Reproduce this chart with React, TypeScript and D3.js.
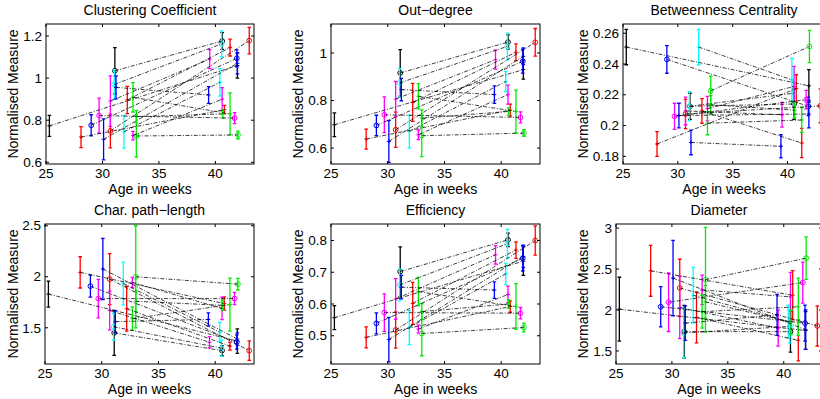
import React from "react";
import * as d3 from "d3";

// 16 subjects, each scanned early (preterm) and at term
const subjectColors = ["k", "r", "b", "m", "b", "r", "m", "k", "c", "b", "c", "r", "m", "g", "g", "g"];
const subjectMarkers = ["+", "+", "o", "o", "+", "o", "+", "o", "o", "+", "+", "+", "+", "+", "+", "o"];
const earlyAge = [25.3, 28.1, 29.0, 29.7, 30.1, 30.7, 30.7, 31.1, 31.05, 31.2, 31.9, 32.2, 32.7, 32.7, 33.0, 33.0];
const termAge = [41.95, 40.8, 41.9, 41.7, 41.95, 43.0, 39.5, 40.6, 40.55, 39.4, 40.4, 41.3, 40.6, 41.3, 40.65, 42.0];

// Clustering coefficient
const clusterEarly = [0.773, 0.72, 0.776, 0.822, 0.709, 0.749, 0.891, 1.035, 0.97, 0.956, 0.745, 0.896, 0.727, 0.909, 0.817, 0.725];
const clusterEarlyErr = [0.05, 0.05, 0.05, 0.083, 0.097, 0.08, 0.12, 0.11, 0.07, 0.055, 0.078, 0.065, 0.02, 0.07, 0.03, 0.1];
const clusterTerm = [1.06, 0.85, 1.094, 0.81, 1.07, 1.178, 1.09, 1.176, 1.163, 0.92, 0.98, 1.145, 0.9, 0.83, 0.83, 0.73];
const clusterTermErr = [0.06, 0.02, 0.04, 0.026, 0.05, 0.063, 0.045, 0.04, 0.061, 0.04, 0.065, 0.04, 0.055, 0.1, 0.02, 0.018];

// Out-degree
const degreeEarly = [0.698, 0.638, 0.695, 0.74, 0.628, 0.677, 0.806, 0.916, 0.874, 0.846, 0.67, 0.792, 0.656, 0.818, 0.726, 0.652];
const degreeEarlyErr = [0.05, 0.042, 0.043, 0.075, 0.088, 0.074, 0.074, 0.098, 0.06, 0.047, 0.069, 0.08, 0.02, 0.053, 0.035, 0.088];
const degreeTerm = [0.93, 0.76, 0.965, 0.729, 0.986, 1.045, 0.972, 1.046, 1.028, 0.825, 0.88, 1.003, 0.825, 0.754, 0.754, 0.663];
const degreeTermErr = [0.04, 0.025, 0.05, 0.023, 0.035, 0.058, 0.04, 0.03, 0.056, 0.037, 0.042, 0.035, 0.04, 0.09, 0.015, 0.014];

// Betweenness centrality
const betweenEarly = [0.251, 0.188, 0.243, 0.206, 0.2065, 0.2075, 0.2095, 0.2125, 0.2125, 0.189, 0.251, 0.2095, 0.211, 0.2015, 0.2135, 0.2226];
const betweenEarlyErr = [0.0115, 0.008, 0.009, 0.0085, 0.008, 0.0095, 0.009, 0.0085, 0.0095, 0.008, 0.0115, 0.008, 0.008, 0.0075, 0.006, 0.0095];
const betweenTerm = [0.2258, 0.224, 0.2125, 0.2168, 0.2075, 0.2128, 0.207, 0.214, 0.221, 0.1865, 0.2297, 0.1886, 0.2254, 0.2036, 0.21, 0.2514];
const betweenTermErr = [0.0105, 0.009, 0.006, 0.006, 0.009, 0.011, 0.008, 0.01, 0.008, 0.0075, 0.014, 0.0095, 0.013, 0.008, 0.005, 0.0105];

// Characteristic path-length
const pathEarly = [1.83, 2.043, 1.908, 1.786, 2.076, 1.977, 1.67, 1.45, 1.51, 1.56, 1.934, 1.687, 1.944, 1.589, 1.76, 2.0];
const pathEarlyErr = [0.127, 0.153, 0.107, 0.188, 0.3, 0.25, 0.19, 0.22, 0.13, 0.107, 0.21, 0.22, 0.05, 0.115, 0.1, 0.5];
const pathTerm = [1.37, 1.737, 1.36, 1.786, 1.39, 1.276, 1.358, 1.276, 1.3, 1.582, 1.457, 1.32, 1.69, 1.727, 1.72, 1.927];
const pathTermErr = [0.12, 0.065, 0.07, 0.06, 0.06, 0.095, 0.055, 0.05, 0.08, 0.065, 0.095, 0.04, 0.11, 0.26, 0.05, 0.057];

// Efficiency
const effEarly = [0.557, 0.495, 0.539, 0.573, 0.488, 0.518, 0.616, 0.702, 0.66, 0.653, 0.526, 0.602, 0.521, 0.639, 0.576, 0.507];
const effEarlyErr = [0.038, 0.033, 0.033, 0.059, 0.07, 0.057, 0.064, 0.078, 0.05, 0.037, 0.054, 0.066, 0.013, 0.045, 0.025, 0.07];
const effTerm = [0.735, 0.592, 0.744, 0.571, 0.75, 0.8, 0.755, 0.802, 0.79, 0.644, 0.695, 0.77, 0.63, 0.592, 0.6, 0.526];
const effTermErr = [0.045, 0.018, 0.04, 0.018, 0.035, 0.046, 0.029, 0.021, 0.045, 0.026, 0.034, 0.026, 0.026, 0.072, 0.014, 0.014];

// Diameter
const diamEarly = [2.01, 2.478, 2.04, 2.095, 2.39, 2.27, 2.03, 1.736, 1.72, 1.84, 2.18, 1.91, 2.245, 1.98, 2.1, 2.37];
const diamEarlyErr = [0.39, 0.31, 0.245, 0.357, 0.46, 0.35, 0.38, 0.32, 0.3, 0.21, 0.34, 0.31, 0.18, 0.2, 0.2, 0.64];
const diamTerm = [1.75, 2.18, 1.84, 2.335, 1.76, 1.806, 1.78, 1.736, 1.8, 1.94, 1.86, 1.63, 2.16, 2.04, 1.85, 2.633];
const diamTermErr = [0.23, 0.3, 0.22, 0.25, 0.24, 0.245, 0.22, 0.25, 0.2, 0.25, 0.2, 0.25, 0.3, 0.35, 0.15, 0.26];

const xTicks = [25, 30, 35, 40];

const COLORS: Record<string, string> = {
  k: "#000000",
  r: "#ff0000",
  g: "#00ee00",
  b: "#0000ff",
  c: "#00ffff",
  m: "#ff00ff",
};

const FONT = "'Liberation Sans', Arial, Helvetica, sans-serif";

type Panel = {
  title: string;
  box: [number, number, number, number]; // left, top, right, bottom
  yDomain: [number, number];
  yTicks: number[];
  labelX: number;
  early: number[];
  earlyErr: number[];
  term: number[];
  termErr: number[];
};

const panels: Panel[] = [
  { title: "Clustering Coefficient", box: [46, 24, 254, 164], yDomain: [0.592, 1.257], yTicks: [0.6, 0.8, 1, 1.2], labelX: 13, early: clusterEarly, earlyErr: clusterEarlyErr, term: clusterTerm, termErr: clusterTermErr },
  { title: "Out\u2212degree", box: [331, 24, 540, 164], yDomain: [0.533, 1.122], yTicks: [0.6, 0.8, 1], labelX: 298, early: degreeEarly, earlyErr: degreeEarlyErr, term: degreeTerm, termErr: degreeTermErr },
  { title: "Betweenness Centrality", box: [623, 24, 825, 164], yDomain: [0.175, 0.266], yTicks: [0.18, 0.2, 0.22, 0.24, 0.26], labelX: 583, early: betweenEarly, earlyErr: betweenEarlyErr, term: betweenTerm, termErr: betweenTermErr },
  { title: "Char. path\u2212length", box: [45, 224, 254, 364], yDomain: [1.145, 2.517], yTicks: [1.5, 2, 2.5], labelX: 13, early: pathEarly, earlyErr: pathEarlyErr, term: pathTerm, termErr: pathTermErr },
  { title: "Efficiency", box: [331, 224, 540, 364], yDomain: [0.411, 0.852], yTicks: [0.5, 0.6, 0.7, 0.8], labelX: 298, early: effEarly, earlyErr: effEarlyErr, term: effTerm, termErr: effTermErr },
  { title: "Diameter", box: [616, 224, 822, 364], yDomain: [1.341, 3.05], yTicks: [1.5, 2, 2.5, 3], labelX: 583, early: diamEarly, earlyErr: diamEarlyErr, term: diamTerm, termErr: diamTermErr },
];

const fmt = d3.format("~g");

function Marker({ x, y, type, color }: { x: number; y: number; type: string; color: string }) {
  if (type === "o") {
    return <circle cx={x} cy={y} r={2.4} fill="none" stroke={color} strokeWidth={1} />;
  }
  return (
    <path d={`M${x - 2},${y}H${x + 2}M${x},${y - 2}V${y + 2}`} stroke={color} strokeWidth={1} />
  );
}

function ErrorPoint({ x, y, lo, hi, color, type }: { x: number; y: number; lo: number; hi: number; color: string; type: string }) {
  const cap = 1.8;
  return (
    <g>
      <path
        d={`M${x},${lo}V${hi}M${x - cap},${lo}H${x + cap}M${x - cap},${hi}H${x + cap}`}
        stroke={color}
        strokeWidth={1.3}
        fill="none"
      />
      <Marker x={x} y={y} type={type} color={color} />
    </g>
  );
}

function ChartPanel({ p, idx }: { p: Panel; idx: number }) {
  const [left, top, right, bottom] = p.box;
  const x = d3.scaleLinear().domain([25, 43.42]).range([left, right]);
  const y = d3.scaleLinear().domain(p.yDomain).range([bottom, top]);
  const clipId = `clip-${idx}`;
  const rowBase = top - 24;
  const midX = (left + right) / 2;
  const midY = (top + bottom) / 2;
  const tickLen = 3;

  return (
    <g fontFamily={FONT}>
      <defs>
        <clipPath id={clipId}>
          <rect x={left} y={top} width={right - left} height={bottom - top} />
        </clipPath>
      </defs>
      <rect x={left} y={top} width={right - left} height={bottom - top} fill="#fff" />

      <g clipPath={`url(#${clipId})`}>
        {subjectColors.map((c, i) => {
          const color = COLORS[c];
          const m = subjectMarkers[i];
          return (
            <g key={`e${i}`}>
              <ErrorPoint
                x={x(earlyAge[i])}
                y={y(p.early[i])}
                lo={y(p.early[i] - p.earlyErr[i])}
                hi={y(p.early[i] + p.earlyErr[i])}
                color={color}
                type={m}
              />
              <ErrorPoint
                x={x(termAge[i])}
                y={y(p.term[i])}
                lo={y(p.term[i] - p.termErr[i])}
                hi={y(p.term[i] + p.termErr[i])}
                color={color}
                type={m}
              />
            </g>
          );
        })}
        {subjectColors.map((_, i) => (
          <line
            key={`l${i}`}
            x1={x(earlyAge[i])}
            y1={y(p.early[i])}
            x2={x(termAge[i])}
            y2={y(p.term[i])}
            stroke="#000"
            strokeWidth={0.75}
            strokeDasharray="4 1.6 1 1.6"
          />
        ))}
      </g>

      <rect x={left} y={top} width={right - left} height={bottom - top} fill="none" stroke="#000" strokeWidth={1} />

      {xTicks.map((t) => (
        <g key={`xt${t}`}>
          <line x1={x(t)} x2={x(t)} y1={bottom} y2={bottom - tickLen} stroke="#000" />
          <line x1={x(t)} x2={x(t)} y1={top} y2={top + tickLen} stroke="#000" />
          <text x={x(t)} y={rowBase + 177.5} fontSize={13.5} textAnchor="middle">
            {fmt(t)}
          </text>
        </g>
      ))}
      {p.yTicks.map((t) => (
        <g key={`yt${t}`}>
          <line x1={left} x2={left + tickLen} y1={y(t)} y2={y(t)} stroke="#000" />
          <line x1={right} x2={right - tickLen} y1={y(t)} y2={y(t)} stroke="#000" />
          <text x={left - 4} y={y(t)} dy="0.35em" fontSize={13.5} textAnchor="end">
            {fmt(t)}
          </text>
        </g>
      ))}

      <text x={midX} y={rowBase + 14.5} fontSize={14} textAnchor="middle">
        {p.title}
      </text>
      <text x={midX} y={rowBase + 193.5} fontSize={14} textAnchor="middle">
        Age in weeks
      </text>
      <text transform={`translate(${p.labelX},${midY}) rotate(-90)`} dy="0.35em" fontSize={14} textAnchor="middle">
        Normalised Measure
      </text>
    </g>
  );
}

export default function App() {
  return (
    <svg
      width={820}
      height={399}
      style={{ position: "absolute", left: 0, top: 0, background: "#fff" }}
    >
      {panels.map((p, i) => (
        <ChartPanel key={p.title} p={p} idx={i} />
      ))}
    </svg>
  );
}
